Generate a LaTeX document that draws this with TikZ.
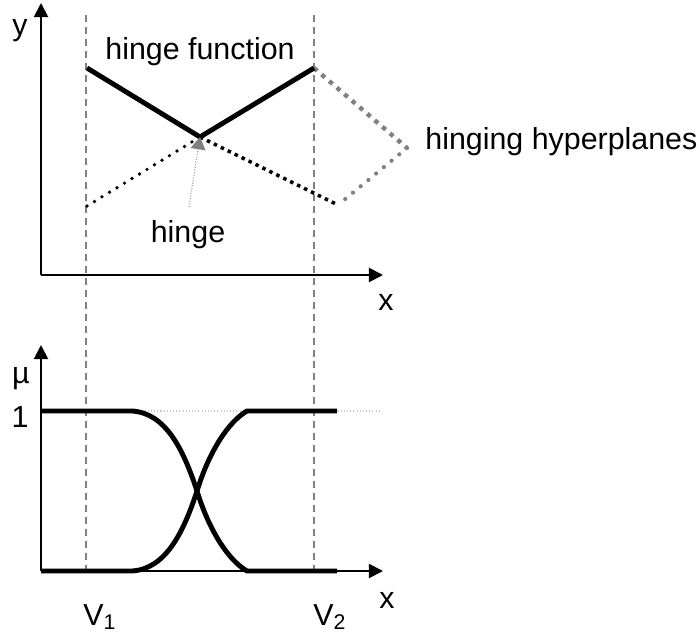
\documentclass[tikz,border=0pt]{standalone}
\usepackage{fontspec}
\setmainfont{Liberation Sans}
\usetikzlibrary{arrows.meta}

\begin{document}
\begin{tikzpicture}[x=0.02cm, y=-0.02cm,
    every node/.style={font=\fontsize{17.3pt}{20pt}\selectfont, inner sep=0pt},
    axis/.style={line width=1.1pt, -{Triangle[length=8pt, width=8pt]}},
    guide/.style={gray, line width=0.85pt, dash pattern=on 4pt off 2.8pt},
    curve/.style={line width=2.8pt},
    rounddots/.style={line width=2.1pt, line cap=round, dash pattern=on 0pt off 5pt},
    squaredots/.style={line width=2pt, dash pattern=on 2pt off 2.4pt}]
    \useasboundingbox (0,0) rectangle (700,642);

    % points of the upper plot
    \coordinate (O1) at (41,275);
    \coordinate (Y1) at (41,3);
    \coordinate (X1) at (383,275);
    \coordinate (A) at (87,68);
    \coordinate (H) at (200,137);
    \coordinate (B) at (314,68);
    \coordinate (C) at (87,206);
    \coordinate (D) at (338,205);
    \coordinate (E) at (407,148);
    \coordinate (hingetail) at (189,207);

    % points of the lower plot
    \coordinate (O2) at (41,571);
    \coordinate (Y2) at (41,345);
    \coordinate (X2) at (383,571);
    \coordinate (L1) at (41,411);
    \coordinate (P1) at (132,411);
    \coordinate (Q1) at (247,411);
    \coordinate (R1) at (337,411);
    \coordinate (P0) at (132,571);
    \coordinate (Q0) at (247,571);
    \coordinate (R0) at (337,571);
    \coordinate (K) at (197,491);
    \coordinate (onefar) at (380,411);

    % guides through V1 and V2
    \draw[guide] (86,15) -- (86,571);
    \draw[guide] (314,15) -- (314,571);

    % axes
    \draw[axis] (O1) -- (Y1);
    \draw[axis] (O1) -- (X1);
    \draw[axis] (O2) -- (Y2);
    \draw[axis] (O2) -- (X2);

    % hinging hyperplanes
    \draw[rounddots] (C) -- (H);
    \draw[squaredots] (H) -- (D);
    \draw[squaredots, gray, line width=2.5pt, dash pattern=on 2.5pt off 3.2pt] (B) -- (E);
    \draw[rounddots, gray, line width=2.4pt, dash pattern=on 0pt off 5.7pt] (E) -- (D);
    \draw[curve] (A) -- (H) -- (B);

    % hinge pointer
    \draw[gray!80, line width=0.6pt, dash pattern=on 0.6pt off 0.9pt,
          -{Triangle[length=7pt, width=8.5pt, fill=gray, color=gray]}] (hingetail) -- (H);

    % membership functions
    \draw[gray!45, line width=0.6pt, dash pattern=on 0.6pt off 1.2pt] (P1) -- (onefar);
    \draw[curve] (L1) -- (P1) .. controls (165,413) and (183,448) .. (K)
        .. controls (209,530) and (228,560) .. (Q0) -- (R0);
    \draw[curve] (O2) -- (P0) .. controls (165,569) and (183,534) .. (K)
        .. controls (209,452) and (228,422) .. (Q1) -- (R1);

    % labels
    \node[anchor=base] (ylbl) at (20,36) {y};
    \node[anchor=base] (xlbl1) at (386,310) {x};
    \node[anchor=base] (fnlbl) at (200,60) {hinge function};
    \node[anchor=base] (hingelbl) at (188,242) {hinge};
    \node[anchor=base west] (planelbl) at (425,150) {hinging hyperplanes};
    \node[anchor=base] (mulbl) at (21,383) {µ};
    \node[anchor=base] (onelbl) at (20,427) {1};
    \node[anchor=base] (xlbl2) at (387,608) {x};
    \node[anchor=base west] (v1lbl) at (83,625) {V\textsubscript{1}};
    \node[anchor=base west] (v2lbl) at (313,625) {V\textsubscript{2}};
\end{tikzpicture}
\end{document}
